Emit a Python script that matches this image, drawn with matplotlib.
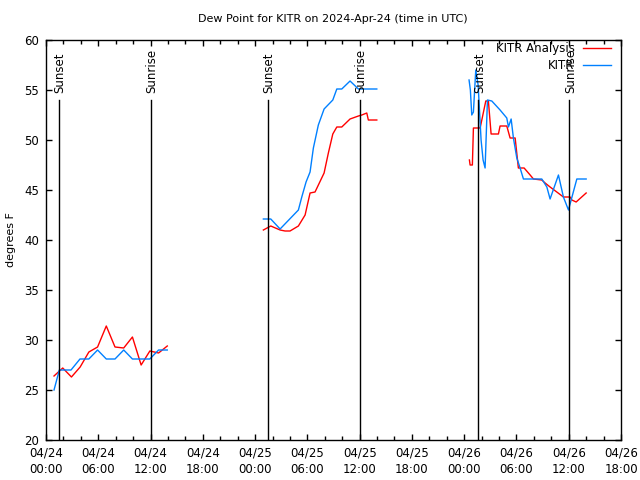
import numpy as np
import matplotlib
matplotlib.use("Agg")
import matplotlib.pyplot as plt
from matplotlib.ticker import MultipleLocator, FixedLocator

# hours after 2024-04-24 00:00 UTC, values in degrees F
# KITR Analysis (red), three stretches of data
analysis_t1 = [0.92, 1.92, 2.92, 3.92, 4.92, 5.92, 6.92, 7.92, 8.92, 9.92, 10.92, 11.92, 12.92, 13.92]
analysis_v1 = [26.4, 27.2, 26.3, 27.3, 28.8, 29.3, 31.4, 29.3, 29.2, 30.3, 27.5, 28.9, 28.7, 29.4]
analysis_t2 = [24.95, 25.80, 26.87, 27.44, 28.01, 28.97, 29.74, 30.31, 30.88, 31.92,
               32.41, 32.92, 33.38, 33.95, 34.90, 35.86, 36.25, 36.82, 37.0, 37.97]
analysis_v2 = [41.0, 41.4, 41.0, 40.9, 40.9, 41.4, 42.5, 44.7, 44.8, 46.7,
               48.7, 50.6, 51.3, 51.3, 52.1, 52.4, 52.5, 52.7, 52.0, 52.0]
analysis_t3 = [48.60, 48.68, 48.94, 49.06, 49.83, 50.48, 50.78, 51.09, 51.93, 52.12,
               52.89, 53.27, 53.85, 54.22, 54.88, 55.57, 55.95, 56.91, 57.29, 57.86,
               58.63, 59.39, 60.16, 60.36, 60.85, 62.0]
analysis_v3 = [48.0, 47.5, 47.5, 51.2, 51.2, 53.9, 53.9, 50.6, 50.6, 51.4,
               51.4, 50.2, 50.2, 47.2, 47.2, 46.5, 46.1, 46.0, 45.7, 45.3,
               44.8, 44.3, 44.3, 44.0, 43.8, 44.7]

# KITR observations (blue)
obs_t1 = [0.92, 1.53, 2.87, 3.90, 4.92, 5.92, 6.92, 7.92, 8.92, 9.92, 10.92, 11.92, 12.92, 13.92]
obs_v1 = [25.0, 27.0, 27.0, 28.1, 28.1, 29.0, 28.1, 28.1, 29.0, 28.1, 28.1, 28.1, 29.0, 29.0]
obs_t2 = [24.95, 25.80, 26.87, 28.97, 29.36, 29.85, 30.31, 30.69, 31.26, 31.92,
          32.92, 33.38, 33.95, 34.90, 35.86, 37.97]
obs_v2 = [42.1, 42.1, 41.1, 43.0, 44.3, 45.8, 46.8, 49.2, 51.5, 53.1,
          54.0, 55.1, 55.1, 55.9, 55.1, 55.1]
obs_t3 = [48.56, 48.71, 48.87, 49.06, 49.33, 49.60, 49.94, 50.17, 50.40, 50.67,
          51.17, 52.12, 52.89, 53.08, 53.39, 53.65, 54.04, 54.42, 54.80, 56.91,
          57.49, 57.86, 58.82, 59.39, 59.97, 60.93, 62.0]
obs_v3 = [56.0, 55.0, 52.5, 52.8, 57.0, 55.5, 50.0, 48.0, 47.2, 54.0,
          53.9, 53.0, 52.2, 51.3, 52.1, 50.2, 48.2, 47.2, 46.1, 46.1,
          45.3, 44.1, 46.5, 44.3, 43.0, 46.1, 46.1]

sunset_t = [1.53, 25.52, 49.63]
sunrise_t = [12.06, 36.05, 60.08]

xtick_hours = [0, 6, 12, 18, 24, 30, 36, 42, 48, 54, 60, 66]
xtick_labels = ["04/24\n00:00", "04/24\n06:00", "04/24\n12:00", "04/24\n18:00",
                "04/25\n00:00", "04/25\n06:00", "04/25\n12:00", "04/25\n18:00",
                "04/26\n00:00", "04/26\n06:00", "04/26\n12:00", "04/26\n18:00"]


def joined(parts):
    # put NaN between stretches so the line breaks at gaps
    out = []
    for p in parts:
        out += list(p) + [np.nan]
    return np.array(out[:-1])


plt.rcParams["font.family"] = "DejaVu Sans"
plt.rcParams["font.size"] = 8

fig = plt.figure(figsize=(6.4, 4.8), dpi=100)
ax = fig.add_axes([46 / 640, 40 / 480, 575 / 640, 400 / 480])

a_t = joined([analysis_t1, analysis_t2, analysis_t3])
a_v = joined([analysis_v1, analysis_v2, analysis_v3])
o_t = joined([obs_t1, obs_t2, obs_t3])
o_v = joined([obs_v1, obs_v2, obs_v3])

ax.plot(a_t, a_v, color="#ff0000", linewidth=1, label="KITR Analysis")
ax.plot(o_t, o_v, color="#0080ff", linewidth=1, label="KITR")

for t in sunset_t:
    ax.plot([t, t], [20, 54], color="black", linewidth=1)
    ax.text(t + 0.1, 54.7, "Sunset", rotation=90, ha="center", va="bottom", fontsize=8.5)
for t in sunrise_t:
    ax.plot([t, t], [20, 54], color="black", linewidth=1)
    ax.text(t + 0.1, 54.7, "Sunrise", rotation=90, ha="center", va="bottom", fontsize=8.5)

ax.set_xlim(0, 66)
ax.set_ylim(20, 60)
ax.xaxis.set_major_locator(FixedLocator(xtick_hours))
ax.set_xticklabels(xtick_labels, linespacing=1.3)
ax.xaxis.set_minor_locator(MultipleLocator(2))
ax.yaxis.set_major_locator(MultipleLocator(5))
ax.tick_params(which="both", direction="in", top=True, right=True, width=1, labelsize=8.5)
ax.tick_params(which="major", length=4, pad=5)
ax.tick_params(which="minor", length=3)
for s in ax.spines.values():
    s.set_linewidth(1)

ax.set_ylabel("degrees F", fontsize=8, labelpad=6)
fig.text(333 / 640, 1 - 19 / 480, "Dew Point for KITR on 2024-Apr-24 (time in UTC)",
         ha="center", va="center", fontsize=8)

ax.legend(loc="upper right", bbox_to_anchor=(1 - 10 / 575, 1 - 2 / 400), frameon=False,
          markerfirst=False, handlelength=2.4, handletextpad=0.7,
          labelspacing=0.35, borderaxespad=0.0, borderpad=0.0, fontsize=8.5)

fig.savefig("out.png", dpi=100)
